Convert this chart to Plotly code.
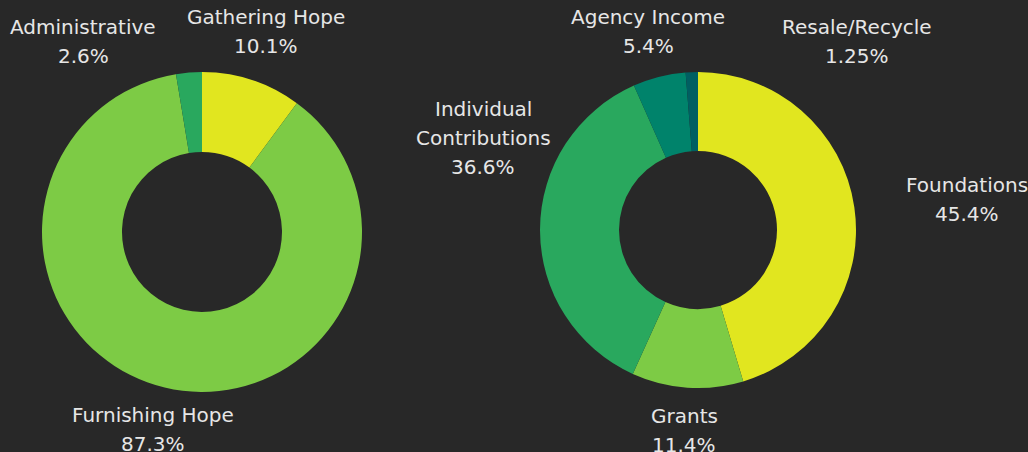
import plotly.graph_objects as go

W, H = 1028, 452

# Data
exp_labels = ["Gathering Hope", "Furnishing Hope", "Administrative"]
exp_values = [10.1, 87.3, 2.6]
exp_text = ["10.1%", "87.3%", "2.6%"]

inc_labels = ["Foundations", "Grants", "Individual Contributions", "Agency Income", "Resale/Recycle"]
inc_values = [45.4, 11.4, 36.6, 5.4, 1.25]
inc_text = ["45.4%", "11.4%", "36.6%", "5.4%", "1.25%"]

# Styles
exp_colors = ["#e1e61f", "#7dcb45", "#29a85e"]
inc_colors = ["#e1e61f", "#7dcb45", "#29a85e", "#00836b", "#005f62"]
BG = "#282828"
TXT = "#e6e6e6"
FONT = "DejaVu Sans"

# label layout (pixel centers of first line, list of lines)
exp_label_pos = [(266, 17), (153, 415), (83, 27)]
exp_label_lines = [[exp_labels[0]], [exp_labels[1]], [exp_labels[2]]]
inc_label_pos = [(967, 185), (684, 416), (483, 109), (648, 17), (857, 27)]
inc_label_lines = [[inc_labels[0]], [inc_labels[1]], ["Individual", "Contributions"], [inc_labels[3]], [inc_labels[4]]]
LINE = 29


def px(x):
    return x / W


def py(y):
    return 1 - y / H


fig = go.Figure()
fig.add_trace(go.Pie(
    labels=exp_labels, values=exp_values, hole=0.5, sort=False, direction="clockwise",
    rotation=0, marker=dict(colors=exp_colors, line=dict(width=0)), textinfo="none",
    domain=dict(x=[px(42), px(362)], y=[py(392), py(72)]), showlegend=False,
))
fig.add_trace(go.Pie(
    labels=inc_labels, values=inc_values, hole=0.5, sort=False, direction="clockwise",
    rotation=0, marker=dict(colors=inc_colors, line=dict(width=0)), textinfo="none",
    domain=dict(x=[px(540), px(856)], y=[py(388), py(72)]), showlegend=False,
))

annotations = []
for pos_list, lines_list, pct_list in [(exp_label_pos, exp_label_lines, exp_text),
                                       (inc_label_pos, inc_label_lines, inc_text)]:
    for (cx, cy), lines, pct in zip(pos_list, lines_list, pct_list):
        for i, t in enumerate(lines + [pct]):
            annotations.append(dict(
                x=px(cx), y=py(cy + i * LINE), xref="paper", yref="paper",
                text=t, showarrow=False, xanchor="center", yanchor="middle",
                font=dict(family=FONT, size=20, color=TXT),
            ))

fig.update_layout(
    width=W, height=H, margin=dict(l=0, r=0, t=0, b=0),
    paper_bgcolor=BG, plot_bgcolor=BG, annotations=annotations,
)

fig.write_html("out.html", config={"displayModeBar": False},
               post_script="document.body.style.margin='0';document.body.style.background='#282828';")
